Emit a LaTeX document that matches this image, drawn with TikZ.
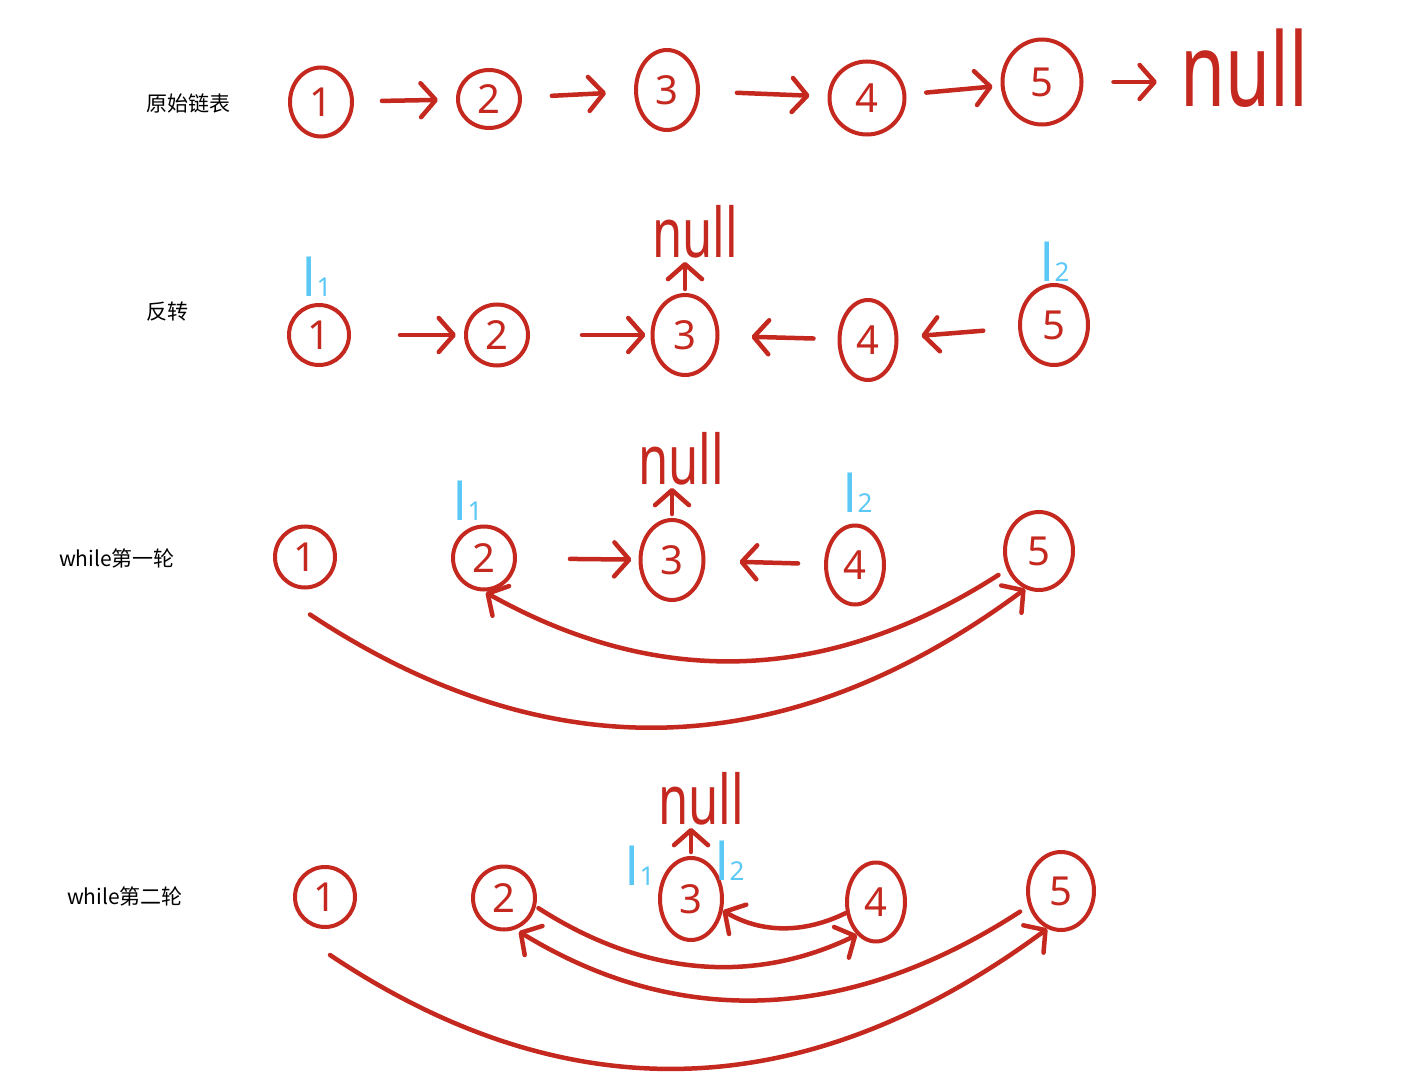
\documentclass[tikz,border=0pt]{standalone}
\usepackage{fontspec}
\setmainfont{Noto Sans}
\newfontfamily\cjk{Noto Sans CJK SC}
\usetikzlibrary{shapes.geometric,arrows.meta,calc}
\definecolor{ink}{RGB}{196,40,30}
\definecolor{sky}{RGB}{92,200,246}
\begin{document}
\begin{tikzpicture}[x=1pt,y=-1pt,
  nd/.style={ellipse,draw=ink,line width=4pt,inner sep=0pt,text=ink,font=\fontsize{40}{40}\selectfont},
  sz/.style 2 args={minimum width=#1pt,minimum height=#2pt},
  arr/.style={draw=ink,line width=4.5pt,line cap=round,-{Straight Barb[length=15pt,width=34pt,round]}},
  sh/.style 2 args={shorten <=#1pt,shorten >=#2pt},
  lab/.style={font=\cjk\fontsize{21}{21}\selectfont,text=black},
  nul/.style={text=ink,inner sep=0pt,anchor=base},
  bl/.style={text=sky,inner sep=0pt,anchor=base west,font=\fontsize{52}{52}\selectfont}
]
\useasboundingbox[fill=white] (0,0) rectangle (1409,1086);

% ---------- row 1 ----------
\node[lab] (t1) at (188,103) {原始链表};
\node[nd,sz={62}{69}] (n11) at (321,102) {1};
\node[nd,sz={62}{58}] (n12) at (489,99) {2};
\node[nd,sz={62}{80}] (n13) at (667,90) {3};
\node[nd,sz={75}{73}] (n14) at (867,98) {4};
\node[nd,sz={79}{85}] (n15) at (1042,82) {5};
\node[nul,font=\fontsize{73}{73}\selectfont] (null1) at (1244,107) {\scalebox{1}[1.4]{null}};
\draw[arr,sh={28}{18}] (n11) -- (n12);
\draw[arr,sh={30}{28}] (n12) -- (n13);
\draw[arr,sh={37}{18}] (n13) -- (n14);
\draw[arr,sh={20}{8}] (n14) -- (n15);
\draw[arr,sh={30}{23}] (n15.east) -- (n15.east -| null1.west);

% ---------- row 2 ----------
\node[lab] (t2) at (167,312) {反转};
\node[nd,sz={60}{60}] (n21) at (319,335) {1};
\node[nd,sz={62}{61}] (n22) at (497,335) {2};
\node[nd,sz={65}{80}] (n23) at (685,335) {3};
\node[nd,sz={57}{80}] (n24) at (868,340) {4};
\node[nd,sz={68}{80}] (n25) at (1054,325) {5};
\node[nul,font=\fontsize{49}{49}\selectfont] (null2) at (695,258) {\scalebox{1}[1.4]{null}};
\node[bl] (l21) at (302,297) {l\kern1pt{\fontsize{26}{26}\selectfont 1}};
\node[bl] (l22) at (1040,282) {l\kern1pt{\fontsize{26}{26}\selectfont 2}};
\draw[arr,sh={49}{8}] (n21) -- (n22);
\draw[arr,sh={52}{5}] (n22) -- (n23);
\draw[arr,sh={24}{32}] (n24) -- (n23);
\draw[arr,sh={35}{23}] (n25) -- (n24);
\draw[arr,sh={4}{3}] (n23.north) -- (n23.north |- null2.south);

% ---------- row 3 ----------
\node[lab] (t3) at (117,558) {while第一轮};
\node[nd,sz={60}{61}] (n31) at (305,557) {1};
\node[nd,sz={62}{63}] (n32) at (484,558) {2};
\node[nd,sz={63}{80}] (n33) at (672,560) {3};
\node[nd,sz={58}{79}] (n34) at (855,565) {4};
\node[nd,sz={68}{78}] (n35) at (1039,551) {5};
\node[nul,font=\fontsize{49}{49}\selectfont] (null3) at (681,484) {\scalebox{1}[1.4]{null}};
\node[bl] (l31) at (453,520) {l\kern1pt{\fontsize{26}{26}\selectfont 1}};
\node[bl] (l32) at (843,512) {l\kern1pt{\fontsize{26}{26}\selectfont 2}};
\draw[arr,sh={53}{7}] (n32) -- (n33);
\draw[arr,sh={26}{34}] (n34) -- (n33);
\draw[arr,sh={4}{3}] (n33.north) -- (n33.north |- null3.south);
\draw[arr,sh={0}{0}] ($(n31.south)+(5,25)$) .. controls (548,772) and (786,766) .. (n35.250);
\draw[arr,sh={10}{2}] (n35.210) .. controls (830,683) and (660,690) .. (n32.south);

% ---------- row 4 ----------
\node[lab] (t4) at (125,896) {while第二轮};
\node[nd,sz={60}{60}] (n41) at (325,897) {1};
\node[nd,sz={62}{63}] (n42) at (504,898) {2};
\node[nd,sz={62}{82}] (n43) at (691,899) {3};
\node[nd,sz={58}{79}] (n44) at (876,902) {4};
\node[nd,sz={66}{78}] (n45) at (1061,891) {5};
\node[nul,font=\fontsize{49}{49}\selectfont] (null4) at (701,824) {\scalebox{1}[1.4]{null}};
\node[bl] (l41) at (625,885) {l\kern1pt{\fontsize{26}{26}\selectfont 1}};
\node[bl] (l42) at (715,880) {l\kern1pt{\fontsize{26}{26}\selectfont 2}};
\draw[arr,sh={4}{3}] (n43.north) -- (n43.north |- null4.south);
\draw[arr,sh={0}{0}] (n44.200) .. controls (803,934) and (761,933) .. (n43.-20);
\draw[arr,sh={3}{0}] (n42.-15) .. controls (644,976) and (753,985) .. (n44.240);
\draw[arr,sh={10}{4}] (n45.205) .. controls (850,1022) and (680,1030) .. (n42.-70);
\draw[arr,sh={0}{0}] ($(n41.south)+(5,26)$) .. controls (568,1114) and (806,1107) .. (n45.250);
\end{tikzpicture}
\end{document}
